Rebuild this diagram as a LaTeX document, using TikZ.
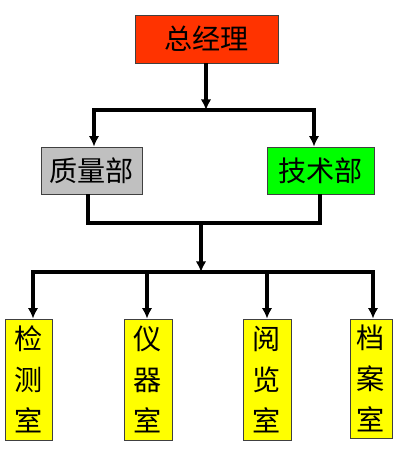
\documentclass[tikz,border=0pt]{standalone}
\usepackage{fontspec}
\newfontfamily\cjk{Noto Sans CJK SC}
\usetikzlibrary{arrows.meta}
\definecolor{bossred}{HTML}{FF3300}
\definecolor{deptgray}{HTML}{C0C0C0}
\definecolor{deptgreen}{HTML}{00FF00}
\definecolor{roomyellow}{HTML}{FFFF00}
\begin{document}
\begin{tikzpicture}[x=0.025cm,y=-0.025cm,>={Latex[length=7.5pt,width=7.5pt]},
  box/.style={draw=black!75,line width=0.6pt,inner sep=0pt,align=center,font=\cjk\fontsize{20}{29}\selectfont},
  deptbox/.style={box,minimum height=1.175cm},
  roombox/.style={box,fill=roomyellow,minimum height=3.025cm},
  link/.style={line width=2.4pt}]
  \useasboundingbox (0,0) rectangle (400,462);
  % boxes
  \node[box,fill=bossred,minimum width=3.575cm,minimum height=1.2cm] (gm) at (206.5,39) {总经理};
  \node[deptbox,fill=deptgray,minimum width=2.525cm] (zl) at (91.5,170.5) {质量部};
  \node[deptbox,fill=deptgreen,minimum width=2.675cm] (js) at (320.5,170.5) {技术部};
  \node[roombox,minimum width=1.175cm] (jc) at (28.5,379.5) {检\\测\\室};
  \node[roombox,minimum width=1.2cm] (yq) at (148,379.5) {仪\\器\\室};
  \node[roombox,minimum width=1.2cm] (yl) at (267,379.5) {阅\\览\\室};
  \node[roombox,minimum width=1.05cm,minimum height=2.975cm] (da) at (371,378.5) {档\\案\\室};
  % junctions
  \coordinate (t) at (206,110); \coordinate (l1) at (94,110); \coordinate (r1) at (314,110);
  \coordinate (l2) at (88,223); \coordinate (r2) at (320,223); \coordinate (m2) at (201,223);
  \coordinate (b1) at (33,272); \coordinate (b2) at (147,272); \coordinate (b3) at (267,272); \coordinate (b4) at (373,272);
  % connectors
  \draw[link,->] (gm.south -| t) -- (t);
  \draw[link,<->] (l1 |- zl.north) -- (l1) -- (r1) -- (r1 |- js.north);
  \draw[link] (zl.south -| l2) -- (l2) -- (r2) -- (js.south -| r2);
  \draw[link,->] (m2) -- (m2 |- b1);
  \draw[link,<->] (b1 |- jc.north) -- (b1) -- (b4) -- (b4 |- da.north);
  \draw[link,->] (b2) -- (b2 |- yq.north);
  \draw[link,->] (b3) -- (b3 |- yl.north);
\end{tikzpicture}
\end{document}
